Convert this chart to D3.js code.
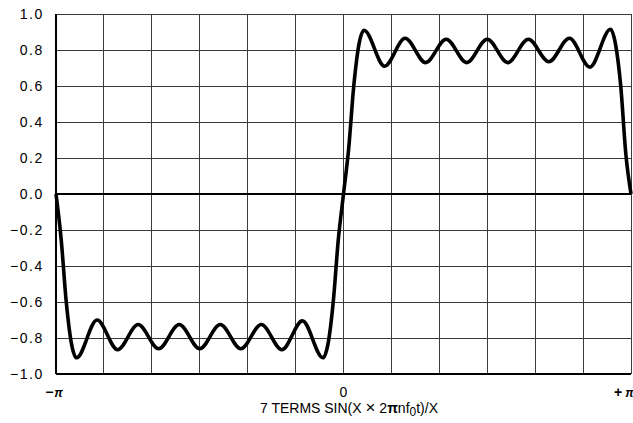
<!DOCTYPE html>
<html>
<head>
<meta charset="utf-8">
<script src="https://cdn.jsdelivr.net/npm/d3@7"></script>
<style>
  html, body { margin: 0; padding: 0; background: #fff; }
  svg { display: block; }
  text { font-family: "Liberation Sans", Arial, sans-serif; fill: #000; }
</style>
</head>
<body>
<script>
// Seven-term square-wave partial sum over one period.
// Positions are in steps of pi/14 (one step between neighbouring ripple extremes).
const curvePhase = [
  -14, -13.75, -13.5, -13.25, -13, -12, -11, -10, -9, -8, -7, -6, -5, -4, -3, -2, -1,
  -0.75, -0.5, -0.25, 0, 0.25, 0.5, 0.75,
  1, 2, 3, 4, 5, 6, 7, 8, 9, 10, 11, 12, 13, 13.25, 13.5, 13.75, 14
];
const curveValue = [
  0.0, -0.25, -0.60, -0.83, -0.91, -0.70, -0.865, -0.725, -0.86, -0.725, -0.86, -0.725, -0.86, -0.725, -0.865, -0.705, -0.91,
  -0.83, -0.60, -0.25, 0.0, 0.25, 0.60, 0.83,
  0.91, 0.71, 0.865, 0.73, 0.86, 0.73, 0.86, 0.73, 0.86, 0.735, 0.865, 0.705, 0.915, 0.83, 0.60, 0.22, 0.0
];

// Axis ticks
const yTicks = [-1.0, -0.8, -0.6, -0.4, -0.2, 0.0, 0.2, 0.4, 0.6, 0.8, 1.0];
const xGridDivisions = 12;
const xTickLabels = [
  { at: -Math.PI, sign: "−", sym: "π" },
  { at: 0, sign: "0", sym: "" },
  { at: Math.PI, sign: "+", sym: "π" }
];

const W = 633, H = 423;
const margin = { left: 56, right: 2, top: 14, bottom: 49 };

const svg = d3.select("body").append("svg")
  .attr("width", W).attr("height", H);

const x = d3.scaleLinear().domain([-Math.PI, Math.PI]).range([margin.left, W - margin.right]);
const y = d3.scaleLinear().domain([-1, 1]).range([H - margin.bottom, margin.top]);

// Grid
const xGrid = d3.range(xGridDivisions + 1).map(i => -Math.PI + i * 2 * Math.PI / xGridDivisions);
svg.append("g").selectAll("line").data(xGrid).join("line")
  .attr("x1", d => x(d)).attr("x2", d => x(d))
  .attr("y1", y(1)).attr("y2", y(-1))
  .attr("stroke", "#3a3a3a").attr("stroke-width", 1)
  .attr("shape-rendering", "crispEdges");
svg.append("g").selectAll("line").data(yTicks).join("line")
  .attr("x1", x(-Math.PI)).attr("x2", x(Math.PI))
  .attr("y1", d => y(d)).attr("y2", d => y(d))
  .attr("stroke", "#3a3a3a").attr("stroke-width", 1)
  .attr("shape-rendering", "crispEdges");

// Heavier frame lines: left edge, bottom edge and the zero line
svg.append("line")
  .attr("x1", x(-Math.PI)).attr("x2", x(-Math.PI))
  .attr("y1", y(1)).attr("y2", y(-1))
  .attr("stroke", "#000").attr("stroke-width", 2);
svg.append("line")
  .attr("x1", x(-Math.PI)).attr("x2", x(Math.PI))
  .attr("y1", y(-1)).attr("y2", y(-1))
  .attr("stroke", "#000").attr("stroke-width", 2);
svg.append("line")
  .attr("x1", x(-Math.PI)).attr("x2", x(Math.PI))
  .attr("y1", y(0)).attr("y2", y(0))
  .attr("stroke", "#000").attr("stroke-width", 2);

// Y axis labels
const fmt = d => d3.format(".1f")(d).replace("-", "−");
const yAxis = d3.axisLeft(y).tickValues(yTicks).tickSize(0).tickPadding(12).tickFormat(fmt);
const gy = svg.append("g").attr("transform", `translate(${x(-Math.PI)},0)`).call(yAxis);
gy.select(".domain").remove();
gy.selectAll("text")
  .attr("font-size", 14)
  .attr("letter-spacing", 1.6)
  .attr("font-family", "Liberation Sans, Arial, sans-serif");

// X tick labels
const xl = svg.append("g").selectAll("text").data(xTickLabels).join("text")
  .attr("x", (d, i) => i === 0 ? x(d.at) - 2 : i === 1 ? x(d.at) : x(d.at) - 17)
  .attr("y", 397)
  .attr("text-anchor", (d, i) => i === 2 ? "start" : "middle")
  .attr("font-size", 14);
xl.append("tspan").text(d => d.sign).attr("font-weight", d => d.sym ? "bold" : "normal");
xl.append("tspan").text(d => d.sym).attr("font-weight", "bold")
  .attr("font-style", "italic").attr("font-size", 12)
  .attr("dx", (d, i) => i === 2 ? 3 : 1);

// Axis title
const title = svg.append("text").attr("x", 349).attr("y", 413)
  .attr("text-anchor", "middle").attr("font-size", 14);
title.append("tspan").text("7 TERMS SIN(X ");
title.append("tspan").text("×").attr("font-size", 17);
title.append("tspan").text(" 2");
title.append("tspan").text("π").attr("font-weight", "bold");
title.append("tspan").text("nf");
title.append("tspan").text("0").attr("dy", 3).attr("font-size", 12);
title.append("tspan").text("t)/X").attr("dy", -3);

// Curve
const points = curvePhase.map((p, i) => [p * Math.PI / 14, curveValue[i]]);
svg.append("path")
  .datum(points)
  .attr("fill", "none")
  .attr("stroke", "#000")
  .attr("stroke-width", 3.6)
  .attr("stroke-linejoin", "round")
  .attr("d", d3.line().x(d => x(d[0])).y(d => y(d[1])).curve(d3.curveMonotoneX));
</script>
</body>
</html>
